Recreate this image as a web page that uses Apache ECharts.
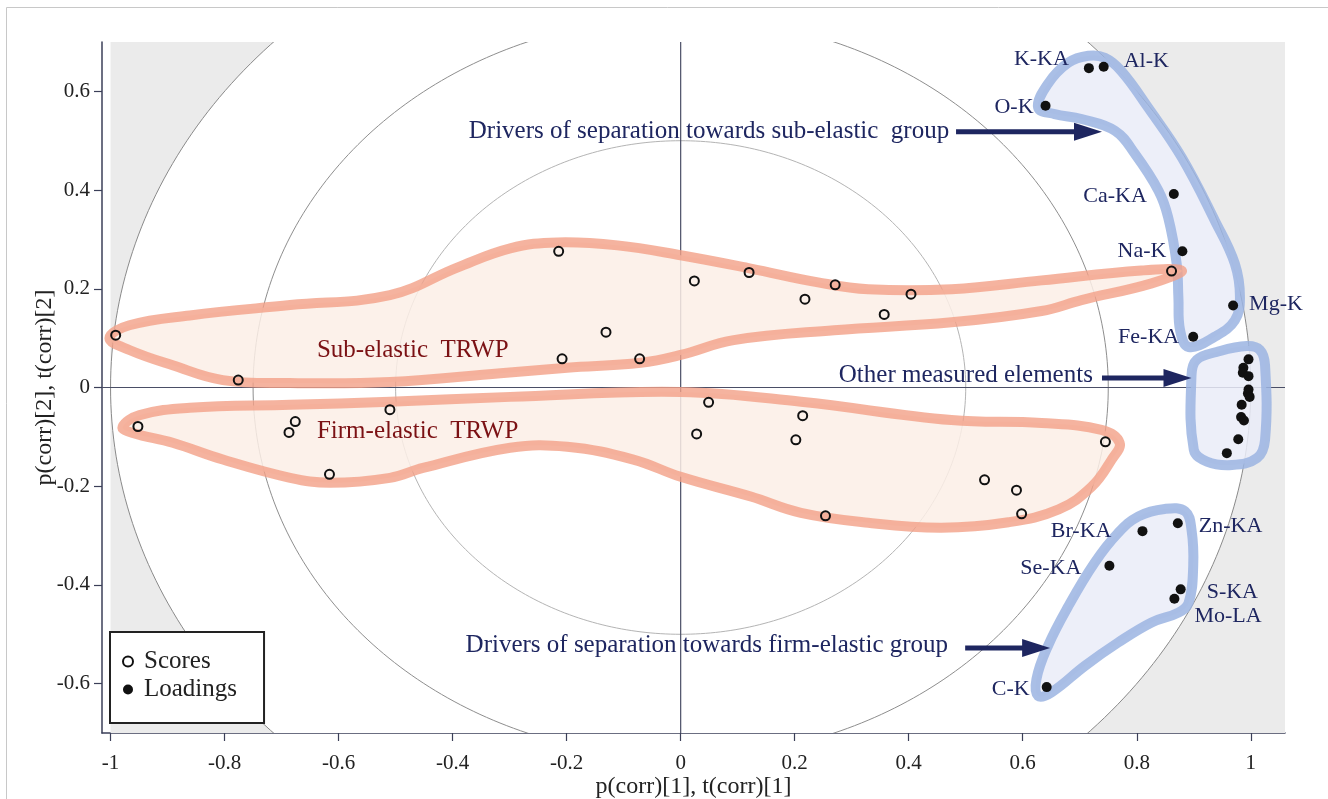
<!DOCTYPE html>
<html>
<head>
<meta charset="utf-8">
<script src="https://cdn.jsdelivr.net/npm/echarts@6/dist/echarts.min.js"></script>
<style>
  html, body { margin: 0; padding: 0; background: #fff; }
  #chart { width: 1328px; height: 799px; }
</style>
</head>
<body>
<div id="chart"></div>
<script>
// axis ranges and ticks
const xMin = -1.015, xMax = 1.06, yMin = -0.7, yMax = 0.7;
const xMajor = [-1, -0.8, -0.6, -0.4, -0.2, 0, 0.2, 0.4, 0.6, 0.8, 1];
const xMinor = [-0.9, -0.7, -0.5, -0.3, -0.1, 0.1, 0.3, 0.5, 0.7, 0.9];
const yMajor = [-0.6, -0.4, -0.2, 0, 0.2, 0.4, 0.6];
const yMinor = [-0.5, -0.3, -0.1, 0.1, 0.3, 0.5];
const circleRadii = [1, 0.75, 0.5];

// scores (open circles)
const scores = [
  [-0.991, 0.106], [-0.776, 0.015], [-0.214, 0.276], [-0.131, 0.112],
  [-0.208, 0.058], [-0.072, 0.058], [0.024, 0.216], [0.120, 0.233],
  [0.218, 0.179], [0.271, 0.208], [0.357, 0.148], [0.404, 0.189],
  [0.861, 0.236],
  [-0.952, -0.079], [-0.676, -0.069], [-0.687, -0.091], [-0.510, -0.045],
  [-0.616, -0.176], [0.049, -0.030], [0.028, -0.094], [0.214, -0.057],
  [0.202, -0.106], [0.254, -0.260], [0.745, -0.110], [0.533, -0.187],
  [0.589, -0.208], [0.598, -0.256]
];

// loadings (filled circles), labelled ones
const loadingNames = ['K-KA', 'Al-K', 'O-K', 'Ca-KA', 'Na-K', 'Mg-K', 'Fe-KA',
  'Br-KA', 'Zn-KA', 'Se-KA', 'S-KA', 'Mo-LA', 'C-K'];
const loadingX = [0.716, 0.742, 0.640, 0.865, 0.880, 0.969, 0.899,
  0.810, 0.872, 0.752, 0.877, 0.866, 0.642];
const loadingY = [0.647, 0.650, 0.571, 0.392, 0.276, 0.166, 0.103,
  -0.291, -0.275, -0.361, -0.409, -0.428, -0.607];
// other measured elements (no labels)
const otherLoadings = [
  [0.996, 0.057], [0.987, 0.040], [0.986, 0.030], [0.996, 0.023],
  [0.996, -0.004], [0.995, -0.012], [0.998, -0.019], [0.984, -0.035],
  [0.983, -0.060], [0.988, -0.067], [0.978, -0.105], [0.958, -0.133]
];

// hand drawn group outlines
const subElasticHull = [
  [-1.002, 0.100], [-0.967, 0.126], [-0.861, 0.146], [-0.685, 0.167], [-0.510, 0.187],
  [-0.392, 0.243], [-0.299, 0.282], [-0.216, 0.294], [-0.111, 0.288], [0, 0.268],
  [0.123, 0.241], [0.241, 0.213], [0.329, 0.199], [0.475, 0.199], [0.633, 0.217],
  [0.808, 0.237], [0.879, 0.237], [0.826, 0.211], [0.703, 0.177], [0.633, 0.155],
  [0.475, 0.132], [0.269, 0.116], [0.093, 0.096], [0, 0.066], [-0.070, 0.050],
  [-0.199, 0.040], [-0.316, 0.029], [-0.510, 0.011], [-0.685, 0.009], [-0.803, 0.015],
  [-0.891, 0.045], [-0.967, 0.076]
];
const firmElasticHull = [
  [-0.979, -0.080], [-0.949, -0.056], [-0.861, -0.041], [-0.685, -0.035], [-0.510, -0.029],
  [-0.299, -0.019], [0, -0.009], [0.211, -0.029], [0.475, -0.066], [0.633, -0.072],
  [0.738, -0.086], [0.770, -0.112], [0.756, -0.146], [0.721, -0.201], [0.663, -0.247],
  [0.575, -0.273], [0.457, -0.284], [0.329, -0.274], [0.211, -0.254], [0.123, -0.221],
  [0, -0.181], [-0.083, -0.146], [-0.199, -0.120], [-0.299, -0.122], [-0.452, -0.163],
  [-0.510, -0.183], [-0.615, -0.193], [-0.685, -0.183], [-0.803, -0.146], [-0.891, -0.112],
  [-0.961, -0.092]
];
const subDriversHull = [
  [0.627, 0.567], [0.644, 0.615], [0.680, 0.658], [0.715, 0.672], [0.744, 0.668],
  [0.773, 0.641], [0.820, 0.567], [0.879, 0.466], [0.937, 0.338], [0.972, 0.251],
  [0.981, 0.183], [0.972, 0.136], [0.937, 0.103], [0.891, 0.082], [0.876, 0.116],
  [0.873, 0.183], [0.870, 0.251], [0.855, 0.345], [0.838, 0.399], [0.797, 0.473],
  [0.762, 0.520], [0.703, 0.544], [0.656, 0.554]
];
const otherHull = [
  [0.896, 0.025], [0.905, 0.056], [0.940, 0.072], [0.993, 0.084], [1.016, 0.076],
  [1.025, 0.045], [1.025, -0.106], [1.011, -0.143], [0.967, -0.157], [0.923, -0.150],
  [0.900, -0.126]
];
const firmDriversHull = [
  [0.885, -0.251], [0.896, -0.288], [0.899, -0.362], [0.891, -0.436], [0.873, -0.456],
  [0.826, -0.476], [0.767, -0.517], [0.709, -0.564], [0.650, -0.618], [0.627, -0.625],
  [0.624, -0.591], [0.644, -0.524], [0.680, -0.443], [0.726, -0.355], [0.767, -0.295],
  [0.803, -0.261], [0.849, -0.246]
];

// annotation arrows [x1, y1, x2, y2] and texts
const arrows = [
  [0.483, 0.518, 0.739, 0.518],
  [0.739, 0.019, 0.896, 0.019],
  [0.499, -0.528, 0.648, -0.528]
];
const notes = [
  { text: 'Drivers of separation towards sub-elastic  group', x: 0.471, y: 0.518, align: 'right', color: '#1e2660' },
  { text: 'Other measured elements', x: 0.723, y: 0.025, align: 'right', color: '#1e2660' },
  { text: 'Drivers of separation towards firm-elastic group', x: 0.469, y: -0.522, align: 'right', color: '#1e2660' },
  { text: 'Sub-elastic  TRWP', x: -0.638, y: 0.076, align: 'left', color: '#7b1114' },
  { text: 'Firm-elastic  TRWP', x: -0.638, y: -0.09, align: 'left', color: '#7b1114' }
];

const serif = '"Liberation Serif", "Times New Roman", serif';
const navy = '#1e2660';
const axisColor = '#3b3f58';

// label side and nudge [dx, dy] for each labelled loading
const labelSide = ['left', 'right', 'left', 'left', 'left', 'right', 'left',
  'left', 'right', 'left', 'right', 'right', 'left'];
const labelNudge = [[-10, -9], [10, -5], [-2, 2], [-17, 2], [-6, 0], [6, -1], [-4, 1],
  [-21, 0], [11, 3], [-18, 3], [16, 3], [10, 17], [-7, 2]];

const loadingData = loadingNames.map((n, i) => ({
  name: n,
  value: [loadingX[i], loadingY[i]],
  label: { show: true, formatter: n, position: labelSide[i] }
})).concat(otherLoadings.map(p => ({ value: p, label: { show: false } })));

function hullSeries(pts, stroke, fill, z) {
  return {
    type: 'custom',
    coordinateSystem: 'cartesian2d',
    silent: true,
    z: z,
    data: [[0, 0]],
    renderItem: function (params, api) {
      return {
        type: 'polygon',
        shape: { points: pts.map(p => api.coord(p)), smooth: 0.4 },
        style: { fill: fill, stroke: stroke, lineWidth: 10 }
      };
    }
  };
}

const chart = echarts.init(document.getElementById('chart'));

const option = {
  backgroundColor: '#fff',
  animation: false,
  grid: { left: 102, right: 43, top: 42, bottom: 66, outerBoundsMode: 'none', containLabel: false },
  xAxis: [{
    type: 'value', min: xMin, max: xMax, position: 'bottom',
    axisLine: { show: true, onZero: false, lineStyle: { color: axisColor, width: 1.5 } },
    axisTick: { show: true, customValues: xMajor, length: 8, lineStyle: { color: axisColor, width: 1.2 } },
    axisLabel: { customValues: xMajor, fontFamily: serif, fontSize: 21, color: '#222', margin: 20 },
    splitLine: { show: false },
    name: 'p(corr)[1], t(corr)[1]', nameLocation: 'middle', nameGap: 42, nameMoveOverlap: false,
    nameTextStyle: { fontFamily: serif, fontSize: 24, color: '#222' }
  }, {
    type: 'value', min: xMin, max: xMax, position: 'bottom',
    axisLine: { show: false },
    axisTick: { show: true, customValues: xMinor, length: 5, lineStyle: { color: axisColor, width: 1.2 } },
    axisLabel: { show: false },
    splitLine: { show: false }
  }],
  yAxis: [{
    type: 'value', min: yMin, max: yMax, position: 'left',
    axisLine: { show: true, onZero: false, lineStyle: { color: axisColor, width: 1.5 } },
    axisTick: { show: true, customValues: yMajor, length: 8, lineStyle: { color: axisColor, width: 1.2 } },
    axisLabel: { customValues: yMajor, fontFamily: serif, fontSize: 21, color: '#222', margin: 12 },
    splitLine: { show: false },
    name: 'p(corr)[2], t(corr)[2]', nameLocation: 'middle', nameGap: 45, nameRotate: 90, nameMoveOverlap: false,
    nameTextStyle: { fontFamily: serif, fontSize: 24, color: '#222' }
  }, {
    type: 'value', min: yMin, max: yMax, position: 'left',
    axisLine: { show: false },
    axisTick: { show: true, customValues: yMinor, length: 5, lineStyle: { color: axisColor, width: 1.2 } },
    axisLabel: { show: false },
    splitLine: { show: false }
  }],
  legend: {
    left: 110, top: 632,
    orient: 'vertical',
    data: ['Scores', 'Loadings'],
    itemWidth: 22, itemHeight: 10, itemGap: 3,
    padding: [17, 27, 21, 12],
    backgroundColor: '#fff',
    borderColor: '#222', borderWidth: 2, borderRadius: 0,
    textStyle: { fontFamily: serif, fontSize: 25, color: '#222' }
  },
  graphic: [{
    type: 'rect', silent: true, z: -10,
    shape: { x: 6.5, y: 7.5, width: 1340, height: 820 },
    style: { fill: null, stroke: '#c8c8c8', lineWidth: 1 }
  }],
  series: [
    {
      // correlation circles, grey outer region and zero lines
      type: 'custom', coordinateSystem: 'cartesian2d', silent: true, z: 1,
      data: [[0, 0]],
      renderItem: function (params, api) {
        const cs = params.coordSys;
        const kids = [];
        const tl = api.coord([-1, yMax]), br = api.coord([xMax, yMin]);
        kids.push({ type: 'rect', shape: { x: tl[0], y: tl[1], width: br[0] - tl[0], height: br[1] - tl[1] }, style: { fill: '#ebebeb' } });
        const strokes = ['#8a8a8a', '#8e8e8e', '#b4b4b4'];
        circleRadii.forEach(function (r, i) {
          const pts = [];
          for (let a = 0; a < 360; a += 1) {
            const t = a * Math.PI / 180;
            pts.push(api.coord([r * Math.cos(t), r * Math.sin(t)]));
          }
          kids.push({ type: 'polygon', shape: { points: pts }, style: { fill: i === 0 ? '#fff' : null, stroke: strokes[i], lineWidth: 1 } });
        });
        const o = api.coord([0, 0]);
        kids.push({ type: 'line', shape: { x1: cs.x, y1: o[1], x2: cs.x + cs.width, y2: o[1] }, style: { stroke: '#4a4e66', lineWidth: 1.2 } });
        kids.push({ type: 'line', shape: { x1: o[0], y1: cs.y, x2: o[0], y2: cs.y + cs.height }, style: { stroke: '#4a4e66', lineWidth: 1.2 } });
        return {
          type: 'group', children: kids,
          clipPath: { type: 'rect', shape: { x: cs.x, y: cs.y, width: cs.width, height: cs.height } }
        };
      }
    },
    hullSeries(subDriversHull, 'rgba(155,180,226,0.85)', 'rgba(234,236,248,0.85)', 2),
    hullSeries(otherHull, 'rgba(155,180,226,0.85)', 'rgba(234,236,248,0.85)', 2),
    hullSeries(firmDriversHull, 'rgba(155,180,226,0.85)', 'rgba(234,236,248,0.85)', 2),
    hullSeries(subElasticHull, 'rgba(243,160,135,0.8)', 'rgba(252,239,230,0.85)', 3),
    hullSeries(firmElasticHull, 'rgba(243,160,135,0.8)', 'rgba(252,239,230,0.85)', 3),
    {
      // arrows
      type: 'custom', coordinateSystem: 'cartesian2d', silent: true, z: 4,
      data: arrows,
      renderItem: function (params, api) {
        const p1 = api.coord([api.value(0), api.value(1)]);
        const p2 = api.coord([api.value(2), api.value(3)]);
        const head = 28, half = 9;
        return {
          type: 'group', children: [
            { type: 'line', shape: { x1: p1[0], y1: p1[1], x2: p2[0] - head + 2, y2: p2[1] }, style: { stroke: navy, lineWidth: 5 } },
            { type: 'polygon', shape: { points: [[p2[0], p2[1]], [p2[0] - head, p2[1] - half], [p2[0] - head, p2[1] + half]] }, style: { fill: navy } }
          ]
        };
      }
    },
    {
      // annotation texts
      type: 'custom', coordinateSystem: 'cartesian2d', silent: true, z: 4,
      data: notes.map(n => [n.x, n.y]),
      renderItem: function (params, api) {
        const n = notes[params.dataIndex];
        const p = api.coord([api.value(0), api.value(1)]);
        return {
          type: 'text', x: p[0], y: p[1],
          style: { text: n.text, fill: n.color, font: '25px ' + serif, align: n.align, verticalAlign: 'middle' }
        };
      }
    },
    {
      name: 'Scores', type: 'scatter', z: 6,
      symbol: 'circle', symbolSize: 9,
      itemStyle: { color: 'rgba(255,255,255,0)', borderColor: '#111', borderWidth: 2, opacity: 1 },
      data: scores
    },
    {
      name: 'Loadings', type: 'scatter', z: 6,
      symbol: 'circle', symbolSize: 10,
      itemStyle: { color: '#111', opacity: 1 },
      label: { fontFamily: serif, fontSize: 22, color: navy },
      labelLayout: function (p) {
        const d = labelNudge[p.dataIndex];
        return d ? { dx: d[0], dy: d[1], hideOverlap: false } : { hideOverlap: false };
      },
      data: loadingData
    }
  ]
};

chart.setOption(option);
</script>
</body>
</html>
